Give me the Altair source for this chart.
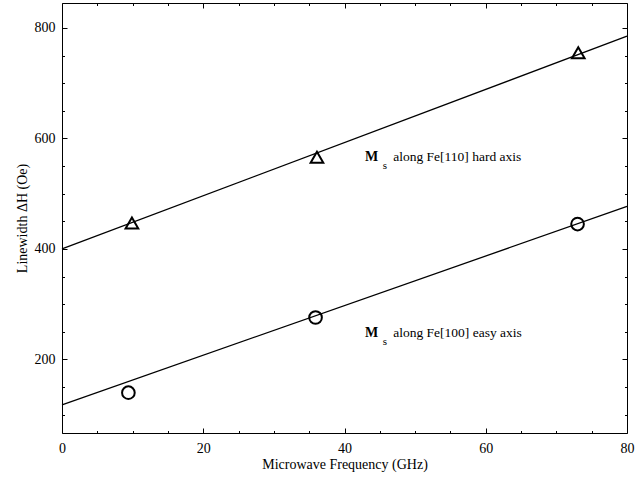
import altair as alt
import pandas as pd

# ---- data ----
hard_freq = [9.9, 36.1, 73.1]
hard_dh = [447, 566, 755]
easy_freq = [9.4, 35.9, 73.0]
easy_dh = [140, 276, 445]

fit_freq = [0, 80]
hard_fit = [400, 785]
easy_fit = [118, 477]

x_ticks = list(range(0, 81, 5))
y_ticks = list(range(100, 801, 50))

ann_rest = ["along Fe[110] hard axis", "along Fe[100] easy axis"]
ann_y = [560, 241]
ann_x_m = [42.9, 42.9]
ann_x_s = [45.4, 45.4]
ann_x_rest = [46.9, 46.9]

FONT = "Liberation Serif"

pts = pd.DataFrame({
    "f": hard_freq + easy_freq,
    "dh": hard_dh + easy_dh,
    "s": ["hard"] * len(hard_freq) + ["easy"] * len(easy_freq),
})
lines = pd.DataFrame({
    "f": fit_freq + fit_freq,
    "dh": hard_fit + easy_fit,
    "s": ["hard"] * len(fit_freq) + ["easy"] * len(fit_freq),
})
ann = pd.DataFrame({
    "xm": ann_x_m, "xs": ann_x_s, "xr": ann_x_rest, "y": ann_y,
    "rest": ann_rest, "m": ["M"] * 2, "sub": ["s"] * 2,
})

xscale = alt.Scale(domain=[0, 80], nice=False, zero=False)
yscale = alt.Scale(domain=[67, 845], nice=False, zero=False)

x_dash = {"condition": {"test": "datum.value % 20 != 0", "value": [0, 2.5, 2.5, 0]}, "value": [5, 0]}
y_dash = {"condition": {"test": "datum.value % 200 != 0", "value": [0, 2.5, 2.5, 0]}, "value": [5, 0]}

common = dict(domain=False, grid=False, offset=-5, tickSize=5, tickColor="black",
              tickWidth=1, labelFont=FONT, labelFontSize=14, labelColor="black",
              titleFont=FONT, titleFontSize=14, titleColor="black", titleFontWeight="normal",
              labelOverlap=False, labelFlush=False)

x_axis = alt.Axis(values=x_ticks, tickDash=x_dash,
                  labelExpr="datum.value % 20 == 0 ? datum.label : ''",
                  labelPadding=8, titlePadding=2, title="Microwave Frequency (GHz)", **common)
y_axis = alt.Axis(values=y_ticks, tickDash=y_dash,
                  labelExpr="datum.value % 200 == 0 ? datum.label : ''",
                  labelPadding=7, titlePadding=5, title="Linewidth ΔH (Oe)", **common)
x_top = alt.Axis(orient="top", values=x_ticks, tickDash=x_dash, labels=False, title=None,
                 domain=False, grid=False, offset=-5, tickSize=5, tickColor="black", tickWidth=1)
y_right = alt.Axis(orient="right", values=y_ticks, tickDash=y_dash, labels=False, title=None,
                   domain=False, grid=False, offset=-5, tickSize=5, tickColor="black", tickWidth=1)

line_layer = alt.Chart(lines).mark_line(color="black", strokeWidth=1.3).encode(
    x=alt.X("f:Q", scale=xscale, axis=x_axis),
    y=alt.Y("dh:Q", scale=yscale, axis=y_axis),
    detail="s:N",
)

pt_layer = alt.Chart(pts).mark_point(filled=False, color="black", strokeWidth=2, size=160, opacity=1).encode(
    x=alt.X("f:Q", scale=xscale, axis=x_top),
    y=alt.Y("dh:Q", scale=yscale, axis=y_right),
    shape=alt.Shape("s:N", scale=alt.Scale(domain=["hard", "easy"], range=["triangle-up", "circle"]), legend=None),
)

m_layer = alt.Chart(ann).mark_text(font=FONT, fontSize=14, fontWeight="bold", align="left",
                                   baseline="alphabetic", color="black").encode(
    x=alt.X("xm:Q", scale=xscale, axis=None),
    y=alt.Y("y:Q", scale=yscale, axis=None),
    text="m:N",
)
s_layer = alt.Chart(ann).mark_text(font=FONT, fontSize=11, align="left", baseline="alphabetic",
                                   dy=8, color="black").encode(
    x=alt.X("xs:Q", scale=xscale, axis=None),
    y=alt.Y("y:Q", scale=yscale, axis=None),
    text="sub:N",
)
r_layer = alt.Chart(ann).mark_text(font=FONT, fontSize=13.5, align="left", baseline="alphabetic",
                                   color="black").encode(
    x=alt.X("xr:Q", scale=xscale, axis=None),
    y=alt.Y("y:Q", scale=yscale, axis=None),
    text="rest:N",
)

chart = alt.layer(line_layer, pt_layer, m_layer, s_layer, r_layer).resolve_axis(
    x="independent", y="independent"
).properties(
    width=565, height=430,
    autosize=alt.AutoSizeParams(type="none"),
    padding={"left": 62, "top": 3, "right": 12, "bottom": 49},
    background="white",
).configure_view(stroke="black", strokeWidth=1, fill="white")

chart.save("out.html", embed_options={"renderer": "svg", "actions": False})
